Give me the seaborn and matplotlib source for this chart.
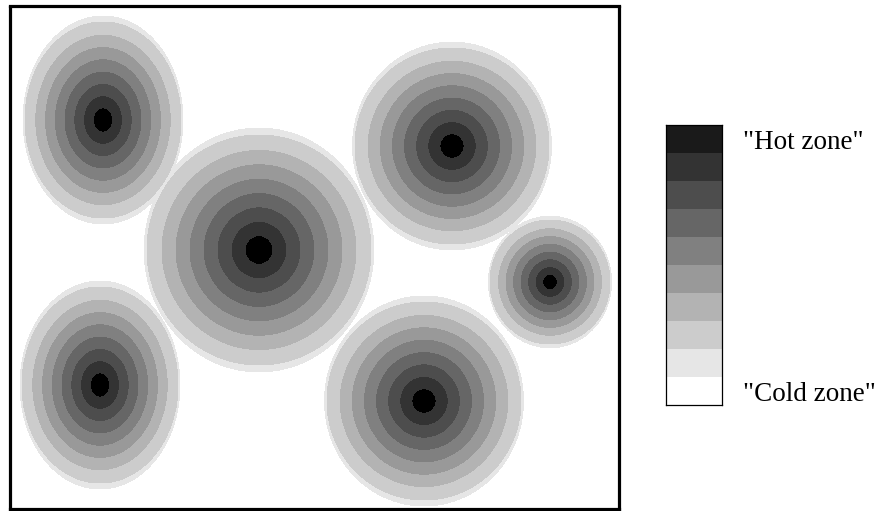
import numpy as np
import matplotlib
matplotlib.use("Agg")
import matplotlib.pyplot as plt
from matplotlib.colors import ListedColormap
import seaborn as sns

# --- blobs (pixel coordinates of the picture, inner ellipse radii) ---
blob_x = [103, 259, 452, 550, 100, 424]
blob_y = [120, 250, 146, 282, 385, 401]
blob_rx = [78, 112, 97, 60, 78, 97]
blob_ry = [98, 115, 98, 62, 98, 99]

# rings from the centre outwards
ring_colors = ['#000000', '#333333', '#4d4d4d', '#666666', '#808080',
               '#999999', '#b3b3b3', '#cccccc']
edge_color = '#e6e6e6'

# colour key, top to bottom
key_colors = ['#1a1a1a', '#333333', '#4d4d4d', '#666666', '#808080',
              '#999999', '#b3b3b3', '#cccccc', '#e6e6e6', '#ffffff']
key_labels = ['"Hot zone"', '"Cold zone"']

sns.set_style("white")
plt.rcParams['font.family'] = ['Liberation Serif', 'DejaVu Serif']

fig = plt.figure(figsize=(8.8, 5.11), dpi=100)
ax = fig.add_axes([9.5 / 880, 2 / 511, 609.5 / 880, 502.5 / 511])

xs = np.linspace(9.5, 619, 1220)
ys = np.linspace(6.5, 509, 1005)
X, Y = np.meshgrid(xs, ys)

f = np.full(X.shape, 10.0)
g = np.full(X.shape, 10.0)
for cx, cy, rx, ry in zip(blob_x, blob_y, blob_rx, blob_ry):
    f = np.minimum(f, np.sqrt(((X - cx) / rx) ** 2 + ((Y - cy) / ry) ** 2))
    ex, ey = rx * 1.025, ry * 1.06
    g = np.minimum(g, np.sqrt(((X - cx) / ex) ** 2 + ((Y - cy) / ey) ** 2))

ax.contourf(X, Y, g, levels=[0, 1], colors=[edge_color])
ax.contourf(X, Y, f, levels=np.arange(len(ring_colors) + 1) / len(ring_colors),
            colors=ring_colors)

ax.set_xlim(9.5, 619)
ax.set_ylim(509, 6.5)
ax.set_xticks([])
ax.set_yticks([])
for s in ax.spines.values():
    s.set_visible(True)
    s.set_color('black')
    s.set_linewidth(2.3)

# --- colour key ---
cax = fig.add_axes([666 / 880, (511 - 405) / 511, 56 / 880, 280 / 511])
sns.heatmap(np.arange(len(key_colors))[:, None], ax=cax,
            cmap=ListedColormap(key_colors), vmin=-0.5, vmax=len(key_colors) - 0.5,
            cbar=False, xticklabels=False, yticklabels=False)
cax.set_yticks([0.5, len(key_colors) - 0.5])
cax.set_yticklabels(key_labels, rotation=0, fontsize=19.5, color='black')
cax.yaxis.tick_right()
cax.tick_params(axis='y', length=0, pad=15, labelcolor='black')
for s in cax.spines.values():
    s.set_visible(True)
    s.set_color('black')
    s.set_linewidth(0.9)

fig.savefig("out.png", dpi=100)
